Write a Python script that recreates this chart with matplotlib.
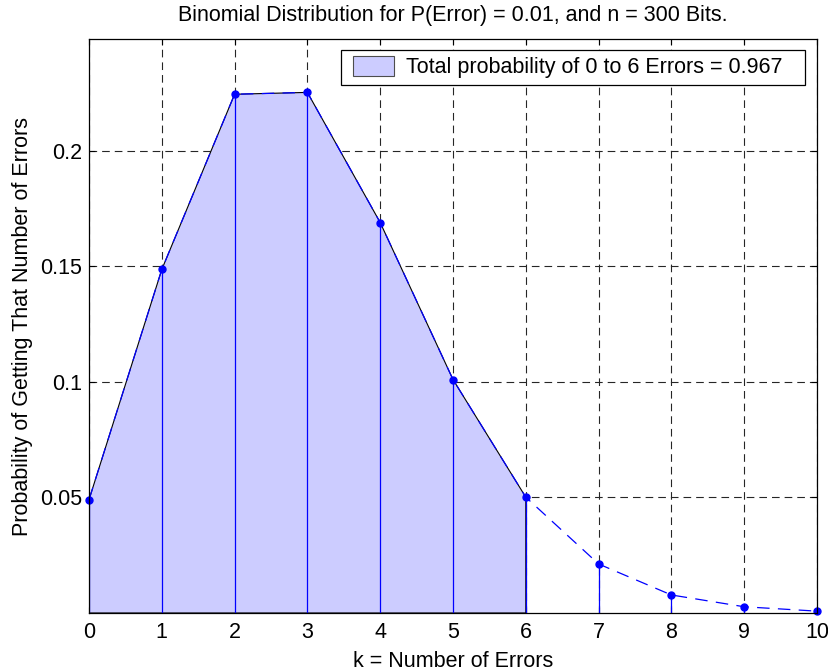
import numpy as np
import matplotlib
matplotlib.use("Agg")
import matplotlib.pyplot as plt
from matplotlib.patches import Patch, Rectangle
from matplotlib.legend_handler import HandlerPatch

# values (binomial pmf, p = 0.01, n = 300)
k = [0, 1, 2, 3, 4, 5, 6, 7, 8, 9, 10]
prob = [0.0490, 0.1486, 0.2244, 0.2252, 0.1689, 0.1010, 0.0501, 0.0212, 0.0078, 0.0027, 0.0008]
k_max = 6
total_label = "Total probability of 0 to 6 Errors = 0.967"
y_ticks = [0.05, 0.1, 0.15, 0.2]
y_tick_labels = ["0.05", "0.1", "0.15", "0.2"]

FS = 15.5
plt.rcParams['font.family'] = ['Liberation Sans', 'DejaVu Sans']
plt.rcParams['lines.scale_dashes'] = False

fig = plt.figure(figsize=(8.29, 6.71), dpi=100)
ax = fig.add_axes([89 / 829, 1 - 613 / 671, (817 - 89) / 829, (613 - 39) / 671])

# grid under everything
ax.set_axisbelow(True)
ax.grid(True, color='0.15', linestyle=(0, (5.5, 3.6)), linewidth=0.8)

# shaded region 0..6 with thin black outline
kk = np.array(k[:k_max + 1])
pp = np.array(prob[:k_max + 1])
xs = np.concatenate([[0], kk, [k_max]])
ys = np.concatenate([[0], pp, [0]])
ax.fill(xs, ys, facecolor='#ccccff', edgecolor='black', linewidth=0.8, zorder=2)

# stems
ax.vlines(k, 0, prob, colors='blue', linewidth=0.9, zorder=3)

# dashed line through all points
ax.plot(k, prob, color='blue', linestyle=(0, (9, 6)), linewidth=0.9,
        marker='o', markersize=5, markerfacecolor='blue', markeredgecolor='blue',
        zorder=4, clip_on=False)

ax.set_xlim(0, 10)
ax.set_ylim(0, 0.2483)
ax.set_xticks(k)
ax.set_yticks(y_ticks)
ax.set_yticklabels(y_tick_labels)
ax.tick_params(direction='in', length=4.5, width=0.8, top=True, right=True,
               labelsize=FS, colors='black')
ax.tick_params(axis='x', pad=6.5)
ax.tick_params(axis='y', pad=5)
for s in ax.spines.values():
    s.set_linewidth(0.9)
    s.set_zorder(5)

ax.set_xlabel("k = Number of Errors", fontsize=FS, labelpad=5.5)
ax.set_ylabel("Probability of Getting That Number of Errors", fontsize=FS, labelpad=5)
ax.set_title("Binomial Distribution for P(Error) = 0.01, and n = 300 Bits.",
             fontsize=FS, pad=13)


def shifted_patch(legend, orig_handle, xdescent, ydescent, width, height, fontsize):
    off = 4
    return Rectangle((-xdescent + off, -ydescent), width - off, height)


handle = Patch(facecolor='#ccccff', edgecolor='0.3', linewidth=0.8)
leg = ax.legend([handle], [total_label], loc='upper left', fontsize=FS,
                bbox_to_anchor=((341 - 89) / 728, (613 - 84) / 574, 464 / 728, 34 / 574),
                mode='expand', borderaxespad=0,
                fancybox=False, framealpha=1, edgecolor='black',
                handlelength=2.15, handleheight=1.0, handletextpad=0.55,
                borderpad=0.3,
                handler_map={Patch: HandlerPatch(patch_func=shifted_patch)})
leg.get_frame().set_linewidth(0.9)

fig.savefig("out.png", dpi=100)
